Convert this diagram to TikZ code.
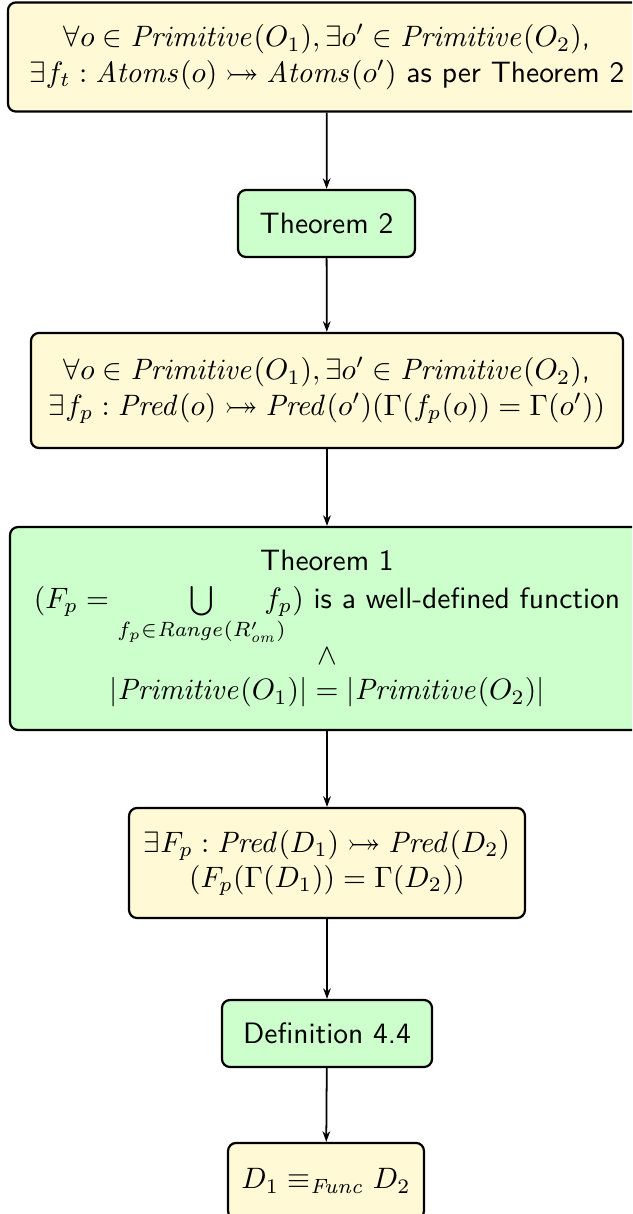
\documentclass[tikz,border=0pt]{standalone}
\usepackage{amsmath,amssymb}
\usetikzlibrary{arrows.meta}
\definecolor{cream}{RGB}{255,249,214}
\definecolor{mint}{RGB}{204,255,204}
\newcommand{\bij}{\mathrel{\rightarrowtail\mkern-18mu\twoheadrightarrow}}
\begin{document}
\begin{tikzpicture}[x=0.339pt,y=-0.339pt,
  box/.style={draw, line width=0.75pt, rounded corners=2.7pt, align=center, inner sep=0pt, font=\sffamily},
  stmt/.style={box, fill=cream},
  refbox/.style={box, fill=mint},
  arr/.style={-{Stealth[length=3.6pt,width=2.6pt]}, line width=0.6pt}]
\useasboundingbox (0,0) rectangle (632,1214);
\clip (0,0) rectangle (632,1214);
\node[stmt, minimum width=216.3pt, minimum height=37pt] (n1) at (327,57)
  {$\forall o \in \mathit{Primitive}(O_1), \exists o' \in \mathit{Primitive}(O_2)$,\\
   $\exists f_t : \mathit{Atoms}(o) \bij \mathit{Atoms}(o')$ as per Theorem 2};
\node[refbox, minimum width=60pt, minimum height=22.7pt] (n2) at (326.5,223.5) {Theorem 2};
\node[stmt, minimum width=200.7pt, minimum height=39pt] (n3) at (327,390.5)
  {$\forall o \in \mathit{Primitive}(O_1), \exists o' \in \mathit{Primitive}(O_2)$,\\
   $\exists f_p : \mathit{Pred}(o) \bij \mathit{Pred}(o')(\Gamma(f_p(o)) = \Gamma(o'))$};
\node[refbox, minimum width=214.9pt, minimum height=68.8pt] (n4) at (327,628.5)
  {Theorem 1\\[1pt]
   $(F_p = \bigcup\limits_{f_p \in \mathit{Range}(R'_{\mathit{om}})} \mkern-16mu f_p)$ is a well-defined function\\
   $\wedge$\\
   $|\mathit{Primitive}(O_1)| = |\mathit{Primitive}(O_2)|$};
\node[stmt, minimum width=134.2pt, minimum height=37.3pt] (n5) at (327,863)
  {$\exists F_p : \mathit{Pred}(D_1) \bij \mathit{Pred}(D_2)$\\
   $(F_p(\Gamma(D_1)) = \Gamma(D_2))$};
\node[refbox, minimum width=71.2pt, minimum height=22.7pt] (n6) at (327,1033.5) {Definition 4.4};
\node[stmt, minimum width=66.4pt, minimum height=25.8pt] (n7) at (326,1181)
  {$D_1 \equiv_{\mathit{Func}} D_2$};
\draw[arr] (n1) -- (n2);
\draw[arr] (n2) -- (n3);
\draw[arr] (n3) -- (n4);
\draw[arr] (n4) -- (n5);
\draw[arr] (n5) -- (n6);
\draw[arr] (n6) -- (n7);
\end{tikzpicture}
\end{document}
